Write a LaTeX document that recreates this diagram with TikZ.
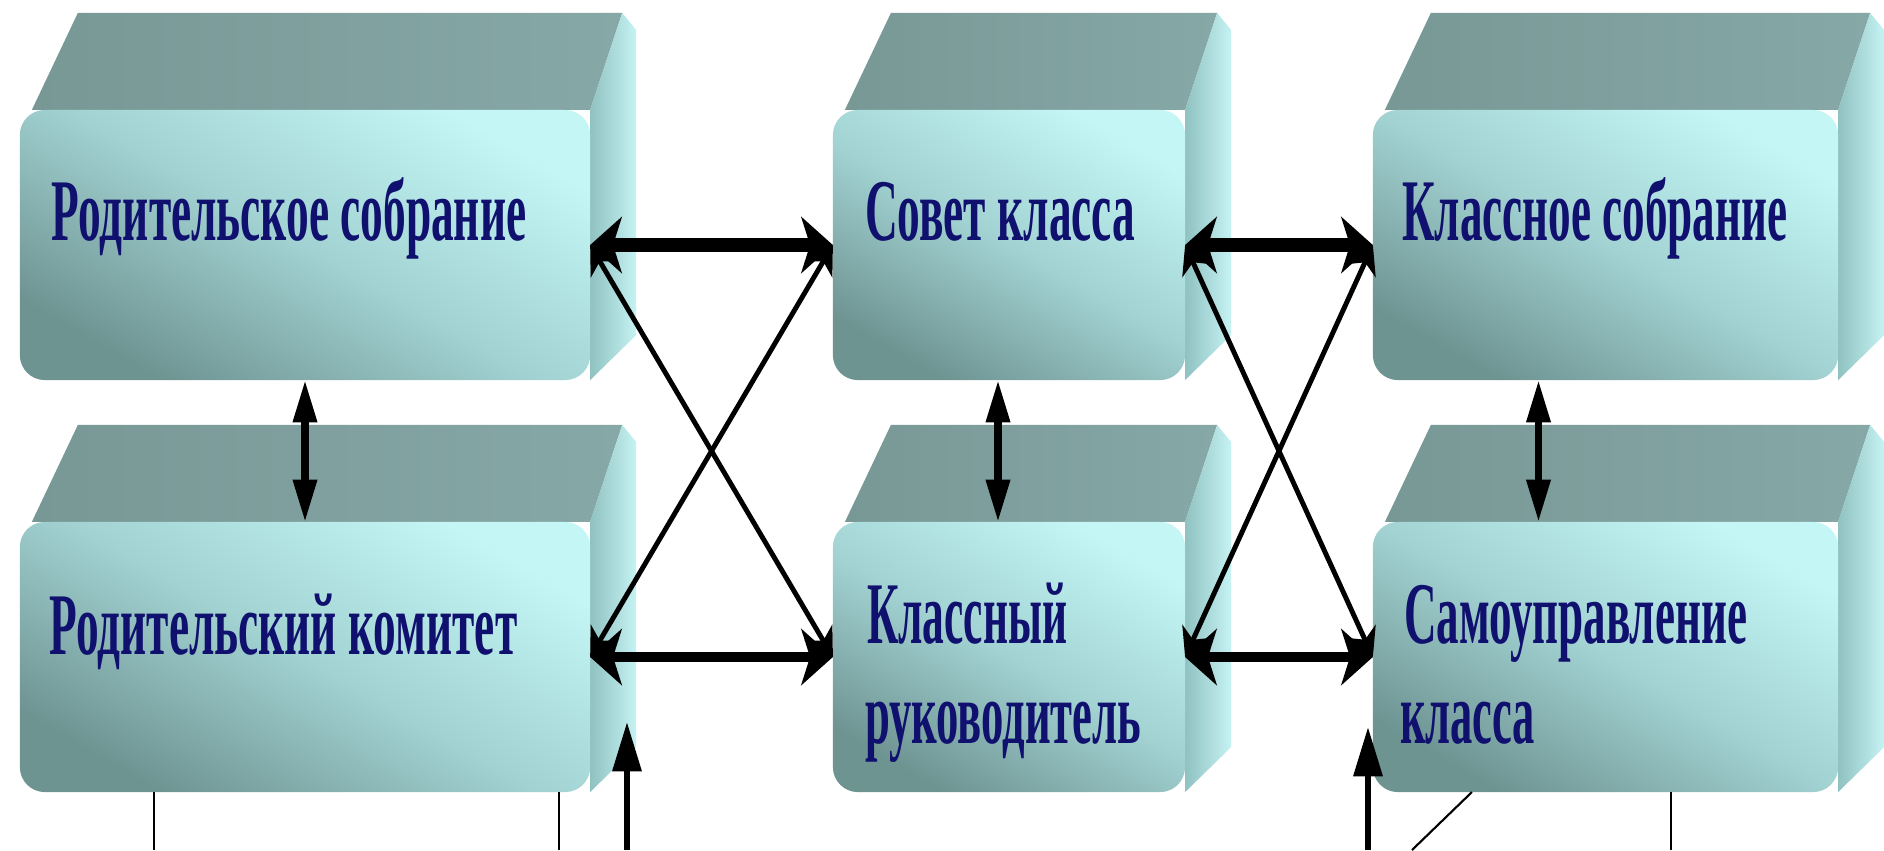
\documentclass[tikz,border=0pt]{standalone}
\usepackage{fontspec}
\usetikzlibrary{arrows.meta,calc}
\newfontfamily\rfont{Liberation Serif}
\definecolor{txt}{HTML}{10106E}
\definecolor{topf}{HTML}{789896}
\definecolor{topl}{HTML}{86A8A6}
\definecolor{frl}{HTML}{C4F6F6}
\definecolor{frm}{HTML}{A2D2D2}
\definecolor{frd}{HTML}{6E9492}
\definecolor{sidel}{HTML}{C6F2F2}
\definecolor{sided}{HTML}{90C2C2}
\newcommand{\fitw}[2]{\resizebox{#1}{\height}{#2}}
\newcommand{\bevelbox}[1]{%
  \shade[left color=topf, right color=topl] ($(#1.north west)+(12,0)$) -- ($(#1.north west)+(58,-97)$) -- ($(#1.north east)+(32,-97)$) -- (#1.north east) -- cycle;
  \shade[left color=sided, right color=sidel] (#1.north east) -- ($(#1.north east)+(32,-97)$) -- ($(#1.north east)+(46,-80)$) -- ($(#1.south east)+(46,-45)$) -- (#1.south east) -- cycle;
  \shade[rounded corners=0.25cm, top color=frl, bottom color=frd, middle color=frm, shading angle=-30] (#1.north west) rectangle (#1.south east);
}
\begin{document}
\begin{tikzpicture}[x=0.01cm,y=-0.01cm,
  front/.style={draw=none, inner sep=0pt, outer sep=0pt, rectangle, minimum height=2.7cm},
  lbl/.style={anchor=base west, inner sep=0pt, outer sep=0pt, text=txt, font=\rfont\bfseries\fontsize{25}{30}\selectfont},
  harrow/.style={line width=4pt, {Stealth[length=9pt,width=16pt,inset=2.5pt]}-{Stealth[length=9pt,width=16pt,inset=2.5pt]}},
  harrowb/.style={line width=3.1pt, {Stealth[length=9pt,width=16pt,inset=2.5pt]}-{Stealth[length=9pt,width=16pt,inset=2.5pt]}},
  darrow/.style={line width=1.4pt, {Stealth[length=8pt,width=9pt]}-{Stealth[length=8pt,width=9pt]}},
  varrow/.style={line width=2pt, {Triangle[length=12pt,width=6.5pt]}-{Triangle[length=12pt,width=6.5pt]}},
  uarrow/.style={line width=1.7pt, -{Triangle[length=14pt,width=8pt]}},
  thinl/.style={line width=0.6pt}
]
\useasboundingbox (0,0) rectangle (1884,850);
\fill[white] (0,0) rectangle (1884,850);

% front faces (named nodes)
\node[front, minimum width=5.7cm] (ps) at (305,245) {};
\node[front, minimum width=3.52cm] (sk) at (1009,245) {};
\node[front, minimum width=4.65cm] (ks) at (1605.5,245) {};
\node[front, minimum width=5.7cm] (pk) at (305,657) {};
\node[front, minimum width=3.52cm] (kr) at (1009,657) {};
\node[front, minimum width=4.65cm] (su) at (1605.5,657) {};

\bevelbox{ps}
\bevelbox{sk}
\bevelbox{ks}
\bevelbox{pk}
\bevelbox{kr}
\bevelbox{su}

% labels
\node[lbl] (tps) at (52,240) {\fitw{4.74cm}{Родительское собрание}};
\node[lbl] (tsk) at (865,240) {\fitw{2.70cm}{Совет класса}};
\node[lbl] (tks) at (1402,240) {\fitw{3.85cm}{Классное собрание}};
\node[lbl] (tpk) at (50,654) {\fitw{4.67cm}{Родительский комитет}};
\node[lbl] (tkr1) at (867,643) {\fitw{2.00cm}{Классный}};
\node[lbl] (tkr2) at (865,743) {\fitw{2.76cm}{руководитель}};
\node[lbl] (tsu1) at (1404,643) {\fitw{3.43cm}{Самоуправление}};
\node[lbl] (tsu2) at (1400,743) {\fitw{1.35cm}{класса}};

% horizontal connectors
\draw[harrow] (ps.east) -- (sk.west);
\draw[harrowb] (pk.east) -- (kr.west);
\draw[harrow] (sk.east) -- (ks.west);
\draw[harrowb] (kr.east) -- (su.west);
% diagonals
\draw[darrow] (ps.east) -- (kr.west);
\draw[darrow] (pk.east) -- (sk.west);
\draw[darrow] (sk.east) -- (su.west);
\draw[darrow] (kr.east) -- (ks.west);
% vertical
\draw[varrow] (ps.south) -- (pk.north);
\draw[varrow] ($(sk.south)+(-11,0)$) -- ($(kr.north)+(-11,0)$);
\draw[varrow] ($(ks.south)+(-67,0)$) -- ($(su.north)+(-67,0)$);

% bottom lines
\coordinate (b1) at (154,850);
\coordinate (b2) at (559,850);
\coordinate (b3) at (627,850);
\coordinate (t3) at (627,722);
\coordinate (b4) at (1368,850);
\coordinate (t4) at (1368,727);
\coordinate (b5) at (1412,850);
\coordinate (b6) at (1671,850);
\draw[thinl] (b1) -- (b1 |- pk.south);
\draw[thinl] (b2) -- (b2 |- pk.south);
\draw[uarrow] (b3) -- (t3);
\draw[uarrow] (b4) -- (t4);
\draw[thinl] (b5) -- ($(su.south west)+(99,0)$);
\draw[thinl] (b6) -- (b6 |- su.south);
\end{tikzpicture}
\end{document}
